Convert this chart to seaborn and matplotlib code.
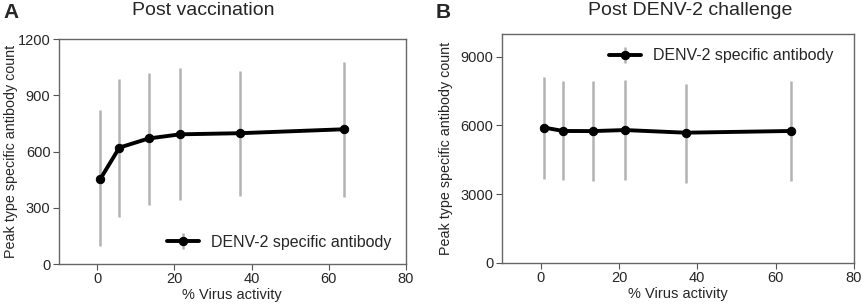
import numpy as np
import pandas as pd
import matplotlib
matplotlib.use("Agg")
import matplotlib.pyplot as plt
import seaborn as sns
from matplotlib.legend_handler import HandlerTuple

virus_activity = [0.8, 5.7, 13.3, 21.5, 37.0, 64.0]

vacc_mean = [455, 621, 670, 692, 698, 719]
vacc_low = [95, 252, 317, 342, 364, 360]
vacc_high = [822, 988, 1021, 1043, 1031, 1080]

chal_mean = [5910, 5760, 5755, 5800, 5685, 5760]
chal_low = [3660, 3610, 3555, 3610, 3510, 3555]
chal_high = [8120, 7930, 7930, 7975, 7800, 7945]

series_label = "DENV-2 specific antibody"
titles = ["Post vaccination", "Post DENV-2 challenge"]
panel_letters = ["A", "B"]
yticks_list = [[0, 300, 600, 900, 1200], [0, 3000, 6000, 9000]]
ylims = [(0, 1200), (0, 10000)]
xticks = [0, 20, 40, 60, 80]

sns.set_style("white")
plt.rcParams['font.family'] = ['Liberation Sans', 'DejaVu Sans']

fig = plt.figure(figsize=(8.65, 3.05), dpi=100)
axA = fig.add_axes([0.068, 0.134, 0.401, 0.738])
axB = fig.add_axes([0.580, 0.138, 0.407, 0.751])

datasets = [(vacc_mean, vacc_low, vacc_high), (chal_mean, chal_low, chal_high)]
legend_locs = ["lower right", "upper right"]
legend_anchor = [(1.0, 0.0), (0.982, 1.0)]
ylabel_x = [-0.118, -0.139]

for i, (ax, (m, lo, hi)) in enumerate(zip([axA, axB], datasets)):
    m = np.array(m); lo = np.array(lo); hi = np.array(hi)
    err = ax.errorbar(virus_activity, m, yerr=[m - lo, hi - m], fmt='none',
                      ecolor='#b3b3b3', elinewidth=1.8, capsize=0, zorder=1)
    df = pd.DataFrame({"x": virus_activity, "y": m})
    sns.lineplot(data=df, x="x", y="y", ax=ax, color='black', lw=2.8,
                 marker='o', markersize=6, markeredgecolor='black', zorder=3,
                 legend=False)
    line = ax.lines[-1]
    ax.set_xlim(-10, 80)
    ax.set_ylim(*ylims[i])
    ax.set_xticks(xticks)
    ax.set_yticks(yticks_list[i])
    ax.tick_params(axis='both', labelsize=10.5, direction='out', length=4,
                   color='#555555', left=True, bottom=True, pad=2)
    for s in ax.spines.values():
        s.set_color('#666666')
        s.set_linewidth(1.0)
    ax.set_xlabel("% Virus activity", fontsize=10.5, labelpad=1)
    ax.set_ylabel("Peak type specific antibody count", fontsize=10.3)
    ax.yaxis.set_label_coords(ylabel_x[i], 0.5)
    ax.legend([(err, line)], [series_label], loc=legend_locs[i],
              bbox_to_anchor=legend_anchor[i], frameon=False,
              fontsize=11.5, handler_map={tuple: HandlerTuple(ndivide=1)},
              handlelength=2.0, handletextpad=0.75)

fig.text(0.235, 0.966, titles[0], ha='center', va='center', fontsize=14)
fig.text(0.798, 0.966, titles[1], ha='center', va='center', fontsize=14)
fig.text(0.004, 0.959, panel_letters[0], ha='left', va='center', fontsize=15, fontweight='bold')
fig.text(0.504, 0.959, panel_letters[1], ha='left', va='center', fontsize=15, fontweight='bold')

fig.savefig("out.png", dpi=100)
